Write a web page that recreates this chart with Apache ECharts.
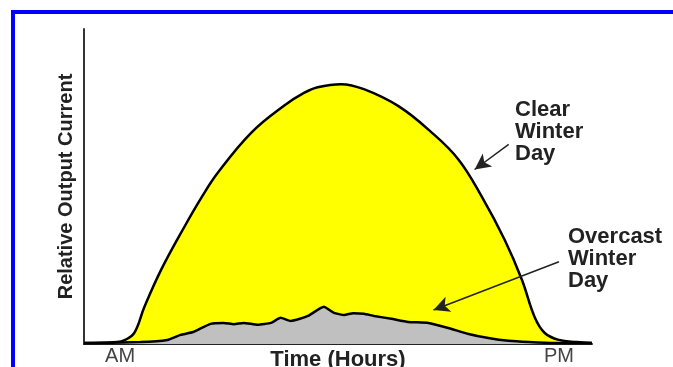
<!DOCTYPE html>
<html>
<head>
<meta charset="utf-8">
<script src="https://cdn.jsdelivr.net/npm/echarts@6/dist/echarts.min.js"></script>
<style>
  html, body { margin: 0; padding: 0; background: #fff; }
  .wrap { position: relative; width: 673px; height: 367px; overflow: hidden; }
  #chart { position: absolute; left: 0; top: 0; width: 673px; height: 367px; }
  .frame {
    position: absolute; left: 11px; top: 10px; right: -10px; bottom: -10px;
    border-left: 4px solid #0000ff; border-top: 4px solid #0000ff;
    pointer-events: none;
  }
</style>
</head>
<body>
<div class="wrap">
  <div id="chart"></div>
  <div class="frame"></div>
</div>
<script>
// time axis runs 0..100 (AM -> PM), output current 0..100 (relative)
const clearTime = [0, 6.5, 8.1, 9.9, 11.9, 15.2, 19.8, 23.2, 26.3, 33.0, 39.5, 43.3, 46.0, 50.6, 55.1, 61.9, 68.4, 73.7, 78.3, 82.8, 86.2, 88.7, 90.7, 93.5, 97.0, 100]
const clearValues = [0.3, 0.6, 1.3, 3.5, 11.8, 23.6, 37.3, 46.7, 54.3, 67.2, 75.8, 79.7, 81.5, 82.5, 80.9, 75.5, 67.2, 58.6, 46.8, 33.1, 20.4, 8.6, 3.5, 1.3, 0.6, 0.3]

const overcastTime = [0, 11.1, 16.4, 19.0, 21.5, 24.9, 27.5, 29.5, 31.4, 34.2, 36.8, 38.7, 40.7, 42.5, 44.1, 47.2, 49.2, 51.2, 53.0, 55.1, 57.1, 60.5, 63.8, 67.8, 71.7, 75.7, 79.6, 83.6, 87.5, 92.7, 100]
const overcastValues = [0.3, 0.6, 1.3, 2.9, 3.8, 6.4, 6.7, 6.3, 6.7, 6.1, 6.7, 8.3, 7.3, 8.0, 8.9, 11.8, 9.9, 9.2, 9.8, 9.6, 8.9, 8.0, 7.0, 6.7, 5.1, 3.2, 1.9, 1.0, 0.6, 0.3, 0.3]

const tickPositions = [7.1, 93.5]
const tickLabels = ['AM', 'PM']

// annotation arrows: [from, to] in data coords
const clearArrow = [[83.6, 63.4], [76.9, 55.4]]
const overcastArrow = [[93.5, 26.1], [68.8, 10.8]]

const chart = echarts.init(document.getElementById('chart'))

const zip = (xs, ys) => xs.map((x, i) => [x, ys[i]])

const arrowLine = (pts) => ({
  silent: true,
  animation: false,
  symbol: ['none', 'arrow'],
  symbolSize: [12, 16],
  label: { show: false },
  lineStyle: { color: '#222', width: 1.5, type: 'solid' },
  emphasis: { disabled: true },
  data: [[{ coord: pts[0] }, { coord: pts[1] }]]
})

const option = {
  animation: false,
  grid: { left: 84, right: 81, top: 29, bottom: 23, outerBoundsMode: 'none' },
  xAxis: {
    type: 'value',
    min: 0,
    max: 100,
    name: 'Time (Hours)',
    nameLocation: 'middle',
    nameGap: 5,
    nameMoveOverlap: false,
    nameTextStyle: { fontFamily: 'Liberation Sans', fontWeight: 'bold', fontSize: 22, color: '#222', verticalAlign: 'top' },
    axisLine: { show: true, lineStyle: { color: '#222', width: 2 } },
    axisTick: { show: false },
    splitLine: { show: false },
    axisLabel: {
      customValues: tickPositions,
      formatter: (v) => tickLabels[tickPositions.indexOf(v)] || '',
      fontFamily: 'Liberation Sans',
      fontSize: 20,
      color: '#444',
      margin: 2
    }
  },
  yAxis: {
    type: 'value',
    min: 0,
    max: 100,
    name: 'Relative Output Current',
    nameLocation: 'middle',
    nameGap: 8,
    nameTextStyle: { fontFamily: 'Liberation Sans', fontWeight: 'bold', fontSize: 20, color: '#222' },
    axisLine: { show: true, lineStyle: { color: '#333', width: 2 } },
    axisTick: { show: false },
    axisLabel: { show: false },
    splitLine: { show: false }
  },
  graphic: [
    {
      type: 'text', left: 515, top: 99,
      style: { text: 'Clear\nWinter\nDay', font: 'bold 22px "Liberation Sans"', lineHeight: 22, fill: '#222' }
    },
    {
      type: 'text', left: 568, top: 226,
      style: { text: 'Overcast\nWinter\nDay', font: 'bold 22px "Liberation Sans"', lineHeight: 22, fill: '#222' }
    }
  ],
  series: [
    {
      name: 'Clear Winter Day',
      type: 'line',
      data: zip(clearTime, clearValues),
      smooth: 0.4,
      symbol: 'none',
      lineStyle: { color: '#000', width: 2.5 },
      areaStyle: { color: '#ffff00', opacity: 1 },
      z: 2,
      markLine: arrowLine(clearArrow)
    },
    {
      name: 'Overcast Winter Day',
      type: 'line',
      data: zip(overcastTime, overcastValues),
      smooth: 0.15,
      symbol: 'none',
      lineStyle: { color: '#000', width: 2.5 },
      areaStyle: { color: '#c0c0c0', opacity: 1 },
      z: 3,
      markLine: arrowLine(overcastArrow)
    }
  ]
}

chart.setOption(option)
window.addEventListener('resize', () => chart.resize())
</script>
</body>
</html>
